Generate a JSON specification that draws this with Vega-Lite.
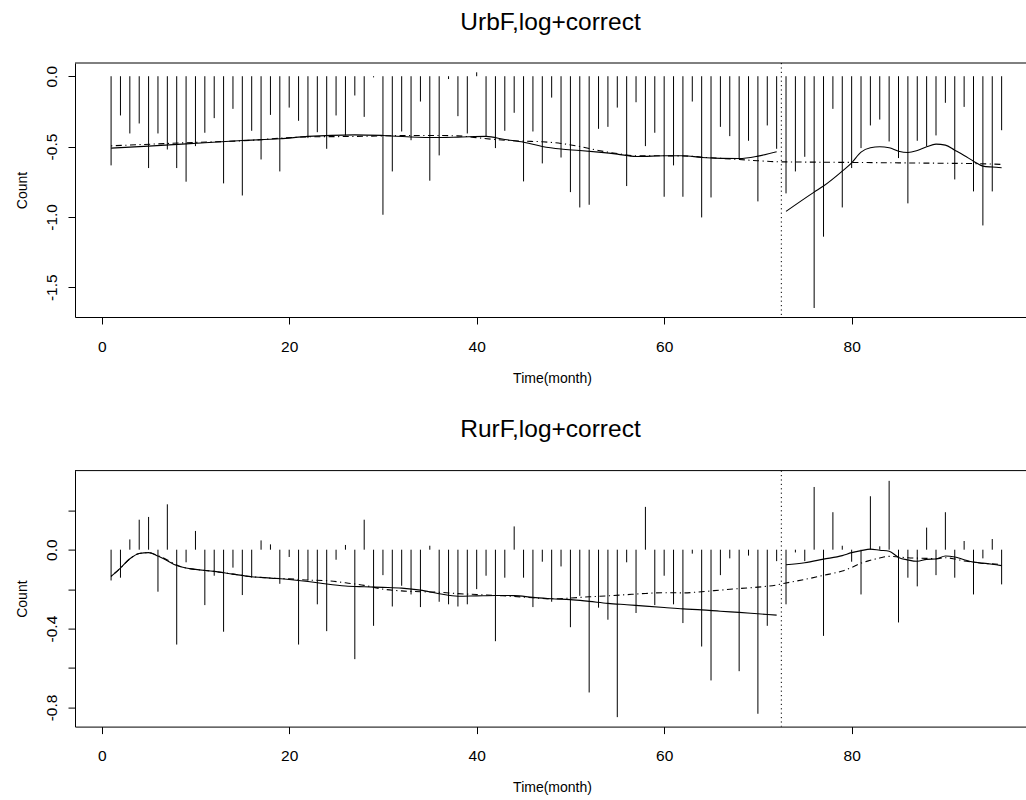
{
  "$schema": "https://vega.github.io/schema/vega-lite/v6.json",
  "padding": {"left": 14, "top": 9, "right": 0, "bottom": 0},
  "background": "white",
  "bounds": "flush",
  "spacing": 153.6,
  "config": {
    "view": {"stroke": "transparent"},
    "font": "Liberation Sans",
    "axis": {
      "labelFont": "Liberation Sans", "titleFont": "Liberation Sans",
      "labelColor": "black", "titleColor": "black", "tickColor": "black", "domainColor": "black",
      "grid": false, "labelFontSize": 15.5, "titleFontSize": 14, "titleFontWeight": "normal",
      "tickSize": 7, "labelFlush": false, "labelOverlap": false
    },
    "title": {"font": "Liberation Sans", "fontSize": 24.5, "fontWeight": "normal", "color": "black", "baseline": "alphabetic", "offset": 27.4}
  },
  "datasets": {
    "topBars": [
      {"month":1,"value":-0.634},{"month":2,"value":-0.279},{"month":3,"value":-0.407},{"month":4,"value":-0.336},{"month":5,"value":-0.653},{"month":6,"value":-0.407},{"month":7,"value":-0.521},{"month":8,"value":-0.653},{"month":9,"value":-0.750},{"month":10,"value":-0.497},
      {"month":11,"value":-0.402},{"month":12,"value":-0.298},{"month":13,"value":-0.762},{"month":14,"value":-0.232},{"month":15,"value":-0.848},{"month":16,"value":-0.388},{"month":17,"value":-0.592},{"month":18,"value":-0.275},{"month":19,"value":-0.677},{"month":20,"value":-0.223},
      {"month":21,"value":-0.317},{"month":22,"value":-0.440},{"month":23,"value":-0.398},{"month":24,"value":-0.516},{"month":25,"value":-0.279},{"month":26,"value":-0.421},{"month":27,"value":-0.137},{"month":28,"value":-0.289},{"month":29,"value":-0.008},{"month":30,"value":-0.985},
      {"month":31,"value":-0.677},{"month":32,"value":-0.393},{"month":33,"value":-0.455},{"month":34,"value":-0.180},{"month":35,"value":-0.743},{"month":36,"value":-0.563},{"month":37,"value":-0.020},{"month":38,"value":-0.284},{"month":39,"value":-0.407},{"month":40,"value":0.028},
      {"month":41,"value":-0.426},{"month":42,"value":-0.511},{"month":43,"value":-0.388},{"month":44,"value":-0.260},{"month":45,"value":-0.748},{"month":46,"value":-0.393},{"month":47,"value":-0.620},{"month":48,"value":-0.152},{"month":49,"value":-0.578},{"month":50,"value":-0.824},
      {"month":51,"value":-0.933},{"month":52,"value":-0.914},{"month":53,"value":-0.374},{"month":54,"value":-0.360},{"month":55,"value":-0.223},{"month":56,"value":-0.781},{"month":57,"value":-0.185},{"month":58,"value":-0.497},{"month":59,"value":-0.402},{"month":60,"value":-0.857},
      {"month":61,"value":-0.634},{"month":62,"value":-0.857},{"month":63,"value":-0.180},{"month":64,"value":-1.004},{"month":65,"value":-0.862},{"month":66,"value":-0.360},{"month":67,"value":-0.426},{"month":68,"value":-0.582},{"month":69,"value":-0.459},{"month":70,"value":-0.890},
      {"month":71,"value":-0.350},{"month":72,"value":-0.516},{"month":73,"value":-0.833},{"month":74,"value":-0.677},{"month":75,"value":-0.573},{"month":76,"value":-1.648},{"month":77,"value":-1.141},{"month":78,"value":-0.232},{"month":79,"value":-0.933},{"month":80,"value":-0.653},
      {"month":81,"value":-0.511},{"month":82,"value":-0.350},{"month":83,"value":-0.308},{"month":84,"value":-0.464},{"month":85,"value":-0.582},{"month":86,"value":-0.904},{"month":87,"value":-0.459},{"month":88,"value":-0.497},{"month":89,"value":-0.421},{"month":90,"value":-0.189},
      {"month":91,"value":-0.734},{"month":92,"value":-0.218},{"month":93,"value":-0.819},{"month":94,"value":-1.061},{"month":95,"value":-0.819},{"month":96,"value":-0.384}
    ],
    "topSmooth": [
      {"month":1,"value":-0.511,"seg":"a"},{"month":5,"value":-0.497,"seg":"a"},{"month":9,"value":-0.481,"seg":"a"},{"month":15,"value":-0.457,"seg":"a"},{"month":19,"value":-0.445,"seg":"a"},{"month":22,"value":-0.428,"seg":"a"},{"month":27,"value":-0.417,"seg":"a"},{"month":30,"value":-0.421,"seg":"a"},{"month":35,"value":-0.436,"seg":"a"},{"month":38,"value":-0.433,"seg":"a"},{"month":41,"value":-0.428,"seg":"a"},{"month":43,"value":-0.450,"seg":"a"},{"month":45,"value":-0.469,"seg":"a"},{"month":47,"value":-0.500,"seg":"a"},{"month":49,"value":-0.518,"seg":"a"},{"month":51,"value":-0.528,"seg":"a"},{"month":53,"value":-0.540,"seg":"a"},{"month":55,"value":-0.554,"seg":"a"},{"month":57,"value":-0.571,"seg":"a"},{"month":60,"value":-0.566,"seg":"a"},{"month":62,"value":-0.565,"seg":"a"},{"month":64,"value":-0.578,"seg":"a"},{"month":66,"value":-0.584,"seg":"a"},{"month":68,"value":-0.585,"seg":"a"},{"month":70,"value":-0.568,"seg":"a"},{"month":72,"value":-0.537,"seg":"a"},
      {"month":73,"value":-0.961,"seg":"b"},{"month":76,"value":-0.824,"seg":"b"},{"month":77,"value":-0.781,"seg":"b"},{"month":79,"value":-0.675,"seg":"b"},{"month":80,"value":-0.616,"seg":"b"},{"month":81,"value":-0.540,"seg":"b"},{"month":82,"value":-0.509,"seg":"b"},{"month":83,"value":-0.502,"seg":"b"},{"month":84,"value":-0.509,"seg":"b"},{"month":85,"value":-0.533,"seg":"b"},{"month":86,"value":-0.542,"seg":"b"},{"month":87,"value":-0.528,"seg":"b"},{"month":88,"value":-0.502,"seg":"b"},{"month":89,"value":-0.483,"seg":"b"},{"month":90,"value":-0.490,"seg":"b"},{"month":91,"value":-0.526,"seg":"b"},{"month":92,"value":-0.563,"seg":"b"},{"month":93,"value":-0.604,"seg":"b"},{"month":94,"value":-0.639,"seg":"b"},{"month":95,"value":-0.646,"seg":"b"},{"month":96,"value":-0.651,"seg":"b"}
    ],
    "topDash": [
      {"month":1,"value":-0.495},{"month":9,"value":-0.473},{"month":15,"value":-0.459},{"month":22,"value":-0.431},{"month":27,"value":-0.428},{"month":30,"value":-0.424},{"month":35,"value":-0.421},{"month":38,"value":-0.424},{"month":40,"value":-0.437},{"month":42,"value":-0.450},{"month":45,"value":-0.462},{"month":47,"value":-0.466},{"month":49,"value":-0.478},{"month":51,"value":-0.500},{"month":53,"value":-0.528},{"month":55,"value":-0.550},{"month":57,"value":-0.566},{"month":60,"value":-0.566},{"month":62,"value":-0.567},{"month":65,"value":-0.580},{"month":68,"value":-0.592},{"month":70,"value":-0.601},{"month":72,"value":-0.608},{"month":76,"value":-0.611},{"month":80,"value":-0.613},{"month":85,"value":-0.616},{"month":90,"value":-0.619},{"month":93,"value":-0.621},{"month":96,"value":-0.627}
    ],
    "botBars": [
      {"month":1,"value":-0.156},{"month":2,"value":-0.142},{"month":3,"value":0.052},{"month":4,"value":0.152},{"month":5,"value":0.166},{"month":6,"value":-0.213},{"month":7,"value":0.230},{"month":8,"value":-0.481},{"month":9,"value":-0.064},{"month":10,"value":0.095},
      {"month":11,"value":-0.281},{"month":12,"value":-0.132},{"month":13,"value":-0.416},{"month":14,"value":-0.091},{"month":15,"value":-0.230},{"month":16,"value":-0.142},{"month":17,"value":0.047},{"month":18,"value":0.027},{"month":19,"value":-0.173},{"month":20,"value":-0.037},
      {"month":21,"value":-0.481},{"month":22,"value":-0.156},{"month":23,"value":-0.277},{"month":24,"value":-0.413},{"month":25,"value":-0.051},{"month":26,"value":0.024},{"month":27,"value":-0.555},{"month":28,"value":0.152},{"month":29,"value":-0.386},{"month":30,"value":-0.129},
      {"month":31,"value":-0.288},{"month":32,"value":-0.183},{"month":33,"value":-0.227},{"month":34,"value":-0.291},{"month":35,"value":0.020},{"month":36,"value":-0.264},{"month":37,"value":-0.277},{"month":38,"value":-0.288},{"month":39,"value":-0.277},{"month":40,"value":-0.200},
      {"month":41,"value":-0.132},{"month":42,"value":-0.464},{"month":43,"value":-0.142},{"month":44,"value":0.118},{"month":45,"value":-0.142},{"month":46,"value":-0.291},{"month":47,"value":-0.061},{"month":48,"value":-0.264},{"month":49,"value":-0.085},{"month":50,"value":-0.393},
      {"month":51,"value":-0.234},{"month":52,"value":-0.724},{"month":53,"value":-0.294},{"month":54,"value":-0.355},{"month":55,"value":-0.849},{"month":56,"value":-0.064},{"month":57,"value":-0.321},{"month":58,"value":0.217},{"month":59,"value":-0.281},{"month":60,"value":-0.132},
      {"month":61,"value":-0.277},{"month":62,"value":-0.372},{"month":63,"value":-0.020},{"month":64,"value":-0.491},{"month":65,"value":-0.663},{"month":66,"value":-0.129},{"month":67,"value":-0.044},{"month":68,"value":-0.616},{"month":69,"value":-0.030},{"month":70,"value":-0.832},
      {"month":71,"value":-0.386},{"month":72,"value":-0.058},{"month":73,"value":-0.277},{"month":74,"value":-0.014},{"month":75,"value":-0.058},{"month":76,"value":0.318},{"month":77,"value":-0.437},{"month":78,"value":0.190},{"month":79,"value":0.020},{"month":80,"value":-0.061},
      {"month":81,"value":-0.227},{"month":82,"value":0.271},{"month":83,"value":0.017},{"month":84,"value":0.349},{"month":85,"value":-0.369},{"month":86,"value":-0.142},{"month":87,"value":-0.186},{"month":88,"value":0.112},{"month":89,"value":-0.129},{"month":90,"value":0.190},
      {"month":91,"value":-0.142},{"month":92,"value":0.044},{"month":93,"value":-0.227},{"month":94,"value":-0.044},{"month":95,"value":0.054},{"month":96,"value":-0.176}
    ],
    "botSmooth": [
      {"month":1,"value":-0.135,"seg":"a"},{"month":2,"value":-0.093,"seg":"a"},{"month":3,"value":-0.046,"seg":"a"},{"month":4,"value":-0.019,"seg":"a"},{"month":5,"value":-0.015,"seg":"a"},{"month":6,"value":-0.032,"seg":"a"},{"month":7,"value":-0.056,"seg":"a"},{"month":8,"value":-0.080,"seg":"a"},{"month":9,"value":-0.093,"seg":"a"},{"month":10,"value":-0.100,"seg":"a"},{"month":12,"value":-0.110,"seg":"a"},{"month":14,"value":-0.124,"seg":"a"},{"month":16,"value":-0.137,"seg":"a"},{"month":18,"value":-0.144,"seg":"a"},{"month":20,"value":-0.151,"seg":"a"},{"month":22,"value":-0.161,"seg":"a"},{"month":24,"value":-0.174,"seg":"a"},{"month":26,"value":-0.184,"seg":"a"},{"month":28,"value":-0.188,"seg":"a"},{"month":30,"value":-0.191,"seg":"a"},{"month":32,"value":-0.195,"seg":"a"},{"month":34,"value":-0.205,"seg":"a"},{"month":36,"value":-0.223,"seg":"a"},{"month":38,"value":-0.236,"seg":"a"},{"month":40,"value":-0.234,"seg":"a"},{"month":42,"value":-0.232,"seg":"a"},{"month":44,"value":-0.233,"seg":"a"},{"month":46,"value":-0.242,"seg":"a"},{"month":48,"value":-0.249,"seg":"a"},{"month":50,"value":-0.253,"seg":"a"},{"month":52,"value":-0.262,"seg":"a"},{"month":54,"value":-0.272,"seg":"a"},{"month":56,"value":-0.279,"seg":"a"},{"month":58,"value":-0.286,"seg":"a"},{"month":60,"value":-0.293,"seg":"a"},{"month":62,"value":-0.300,"seg":"a"},{"month":64,"value":-0.305,"seg":"a"},{"month":66,"value":-0.312,"seg":"a"},{"month":68,"value":-0.318,"seg":"a"},{"month":70,"value":-0.325,"seg":"a"},{"month":72,"value":-0.332,"seg":"a"},
      {"month":73,"value":-0.076,"seg":"b"},{"month":75,"value":-0.066,"seg":"b"},{"month":77,"value":-0.048,"seg":"b"},{"month":79,"value":-0.030,"seg":"b"},{"month":80,"value":-0.015,"seg":"b"},{"month":81,"value":-0.005,"seg":"b"},{"month":82,"value":0.003,"seg":"b"},{"month":83,"value":-0.003,"seg":"b"},{"month":84,"value":-0.008,"seg":"b"},{"month":85,"value":-0.039,"seg":"b"},{"month":86,"value":-0.052,"seg":"b"},{"month":87,"value":-0.059,"seg":"b"},{"month":88,"value":-0.049,"seg":"b"},{"month":89,"value":-0.047,"seg":"b"},{"month":90,"value":-0.032,"seg":"b"},{"month":91,"value":-0.037,"seg":"b"},{"month":92,"value":-0.051,"seg":"b"},{"month":93,"value":-0.063,"seg":"b"},{"month":94,"value":-0.068,"seg":"b"},{"month":95,"value":-0.074,"seg":"b"},{"month":96,"value":-0.081,"seg":"b"}
    ],
    "botDash": [
      {"month":1,"value":-0.135},{"month":2,"value":-0.093},{"month":3,"value":-0.046},{"month":4,"value":-0.019},{"month":5,"value":-0.015},{"month":6,"value":-0.030},{"month":7,"value":-0.052},{"month":8,"value":-0.078},{"month":9,"value":-0.093},{"month":10,"value":-0.100},{"month":12,"value":-0.110},{"month":14,"value":-0.124},{"month":16,"value":-0.137},{"month":18,"value":-0.144},{"month":20,"value":-0.148},{"month":22,"value":-0.154},{"month":24,"value":-0.157},{"month":26,"value":-0.168},{"month":28,"value":-0.181},{"month":30,"value":-0.200},{"month":32,"value":-0.209},{"month":34,"value":-0.213},{"month":36,"value":-0.216},{"month":38,"value":-0.223},{"month":40,"value":-0.227},{"month":42,"value":-0.232},{"month":44,"value":-0.237},{"month":46,"value":-0.244},{"month":48,"value":-0.249},{"month":50,"value":-0.245},{"month":52,"value":-0.239},{"month":54,"value":-0.234},{"month":56,"value":-0.228},{"month":58,"value":-0.222},{"month":60,"value":-0.218},{"month":62,"value":-0.219},{"month":64,"value":-0.213},{"month":66,"value":-0.205},{"month":68,"value":-0.197},{"month":70,"value":-0.190},{"month":72,"value":-0.179},{"month":73,"value":-0.169},{"month":75,"value":-0.151},{"month":77,"value":-0.130},{"month":79,"value":-0.108},{"month":80,"value":-0.090},{"month":81,"value":-0.068},{"month":82,"value":-0.054},{"month":83,"value":-0.042},{"month":84,"value":-0.034},{"month":85,"value":-0.037},{"month":86,"value":-0.041},{"month":88,"value":-0.044},{"month":89,"value":-0.046},{"month":90,"value":-0.041},{"month":91,"value":-0.047},{"month":92,"value":-0.057},{"month":93,"value":-0.063},{"month":94,"value":-0.070},{"month":95,"value":-0.072},{"month":96,"value":-0.075}
    ]
  },
  "vconcat": [
    {
      "width": 951, "height": 254,
      "view": {"stroke": "transparent"},
      "title": {"text": "UrbF,log+correct"},
      "layer": [
        {
          "data": {"name": "topBars"},
          "mark": {"type": "rule", "color": "black", "strokeWidth": 1},
          "encoding": {
            "x": {"field": "month", "type": "quantitative",
                  "scale": {"domain": [-2.85, 98.6], "nice": false, "zero": false},
                  "axis": {"title": "Time(month)", "values": [0, 20, 40, 60, 80], "labelPadding": 27, "labelBaseline": "alphabetic", "titleX": 477, "titleY": 65, "titleBaseline": "alphabetic", "titleAlign": "center"}},
            "y": {"field": "value", "type": "quantitative",
                  "scale": {"domain": [-1.712, 0.094], "nice": false, "zero": false},
                  "axis": {"title": "Count", "values": [0, -0.5, -1, -1.5], "labelExpr": "replace(format(datum.value, '.1f'), '\u2212', '-')", "labelAngle": 270, "labelAlign": "center", "labelBaseline": "alphabetic", "labelPadding": 11.5, "titleAngle": 270, "titleX": -49, "titleY": 127, "titleAlign": "center", "titleBaseline": "alphabetic"}},
            "y2": {"datum": 0}
          }
        },
        {
          "data": {"name": "topSmooth"},
          "mark": {"type": "line", "color": "black", "strokeWidth": 1.1, "interpolate": "monotone"},
          "encoding": {
            "x": {"field": "month", "type": "quantitative"},
            "y": {"field": "value", "type": "quantitative"},
            "detail": {"field": "seg", "type": "nominal"}
          }
        },
        {
          "data": {"name": "topDash"},
          "mark": {"type": "line", "color": "black", "strokeWidth": 1.1, "interpolate": "monotone", "strokeDash": [1.2, 3.5, 6, 3.5]},
          "encoding": {
            "x": {"field": "month", "type": "quantitative"},
            "y": {"field": "value", "type": "quantitative"}
          }
        },
        {
          "data": {"values": [{}]},
          "mark": {"type": "rule", "color": "black", "strokeWidth": 1, "strokeDash": [1.2, 3.2]},
          "encoding": {"x": {"datum": 72.5}}
        },
        {
          "data": {"values": [{}]},
          "mark": {"type": "rule", "color": "black", "strokeWidth": 1},
          "encoding": {"y": {"datum": 0.094}}
        }
      ]
    },
    {
      "width": 951, "height": 256,
      "view": {"stroke": "transparent"},
      "title": {"text": "RurF,log+correct"},
      "layer": [
        {
          "data": {"name": "botBars"},
          "mark": {"type": "rule", "color": "black", "strokeWidth": 1},
          "encoding": {
            "x": {"field": "month", "type": "quantitative",
                  "scale": {"domain": [-2.85, 98.6], "nice": false, "zero": false},
                  "axis": {"title": "Time(month)", "values": [0, 20, 40, 60, 80], "labelPadding": 27, "labelBaseline": "alphabetic", "titleX": 477, "titleY": 65, "titleBaseline": "alphabetic", "titleAlign": "center"}},
            "y": {"field": "value", "type": "quantitative",
                  "scale": {"domain": [-0.897, 0.401], "nice": false, "zero": false},
                  "axis": {"title": "Count", "values": [0.2, 0, -0.2, -0.4, -0.6, -0.8], "labelExpr": "(datum.value < 0.1 && abs(round(datum.value * 5)) % 2 == 0) ? replace(format(datum.value, '.1f'), '\u2212', '-') : ''", "labelAngle": 270, "labelAlign": "center", "labelBaseline": "alphabetic", "labelPadding": 11.5, "titleAngle": 270, "titleX": -49, "titleY": 128, "titleAlign": "center", "titleBaseline": "alphabetic"}},
            "y2": {"datum": 0}
          }
        },
        {
          "data": {"name": "botSmooth"},
          "mark": {"type": "line", "color": "black", "strokeWidth": 1.1, "interpolate": "monotone"},
          "encoding": {
            "x": {"field": "month", "type": "quantitative"},
            "y": {"field": "value", "type": "quantitative"},
            "detail": {"field": "seg", "type": "nominal"}
          }
        },
        {
          "data": {"name": "botDash"},
          "mark": {"type": "line", "color": "black", "strokeWidth": 1.1, "interpolate": "monotone", "strokeDash": [1.2, 3.5, 6, 3.5]},
          "encoding": {
            "x": {"field": "month", "type": "quantitative"},
            "y": {"field": "value", "type": "quantitative"}
          }
        },
        {
          "data": {"values": [{}]},
          "mark": {"type": "rule", "color": "black", "strokeWidth": 1, "strokeDash": [1.2, 3.2]},
          "encoding": {"x": {"datum": 72.5}}
        },
        {
          "data": {"values": [{}]},
          "mark": {"type": "rule", "color": "black", "strokeWidth": 1},
          "encoding": {"y": {"datum": 0.401}}
        }
      ]
    }
  ]
}
